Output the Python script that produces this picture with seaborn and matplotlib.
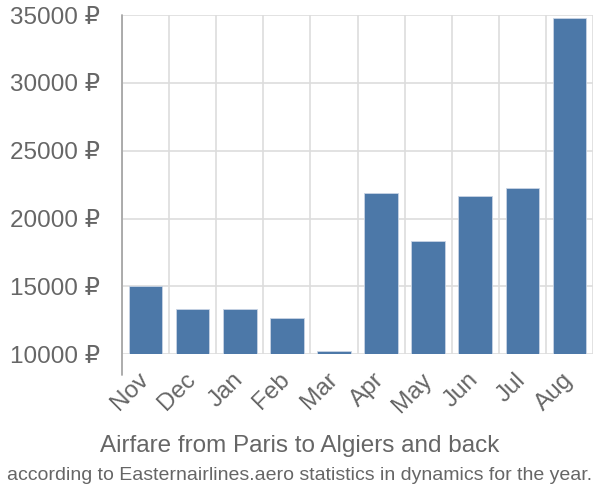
import matplotlib
matplotlib.use("Agg")
import matplotlib.pyplot as plt
import seaborn as sns
import pandas as pd
import numpy as np
from matplotlib.ticker import FixedLocator

months = ["Nov", "Dec", "Jan", "Feb", "Mar", "Apr", "May", "Jun", "Jul", "Aug"]
prices = [15050, 13350, 13370, 12660, 10240, 21890, 18370, 21640, 22260, 34760]
yticks = [10000, 15000, 20000, 25000, 30000, 35000]
ytick_labels = [f"{v} ₽" for v in yticks]
title = "Airfare from Paris to Algiers and back"
subtitle = "according to Easternairlines.aero statistics in dynamics for the year."

sns.set_theme(style="white")
plt.rcParams["font.family"] = ["Liberation Sans", "DejaVu Sans"]

TEXT = "#666666"
GRID = "#dddddd"
BAR = "#4c78a8"

df = pd.DataFrame({"month": months, "price": prices})

fig = plt.figure(figsize=(6, 5), dpi=100)
ax = fig.add_axes([122 / 600, 1 - 354.3 / 500, (593 - 122) / 600, (354.3 - 15) / 500])

sns.barplot(data=df, x="month", y="price", color=BAR, width=0.715,
            saturation=1, edgecolor="#c8d4e4", linewidth=0.6, ax=ax, zorder=3)

ax.set_ylim(10000, 35000)
ax.set_xlim(-0.5, len(months) - 0.5)
ax.set_yticks(yticks)
ax.set_yticklabels(ytick_labels)
ax.set_xlabel("")
ax.set_ylabel("")

# grid
ax.xaxis.set_minor_locator(FixedLocator(np.arange(-0.5, len(months), 1.0)))
ax.grid(False)
ax.grid(axis="y", which="major", color=GRID, linewidth=1.2, zorder=0)
ax.grid(axis="x", which="minor", color=GRID, linewidth=1.2, zorder=0)
for s in ax.spines.values():
    s.set_visible(False)

ax.tick_params(axis="y", which="major", length=16, color=GRID, width=1.2,
               pad=0, labelsize=17.5, labelcolor=TEXT)
ax.tick_params(axis="x", which="major", length=0, pad=16, labelsize=17.5, labelcolor=TEXT)
ax.tick_params(axis="x", which="minor", length=14.5, color=GRID, width=1.2)
for lab in ax.get_xticklabels():
    lab.set_rotation(45)
    lab.set_ha("right")
    lab.set_va("center")
    lab.set_rotation_mode("anchor")

# left axis line (extended below)
ax.plot([0, 0], [-0.06, 1], transform=ax.transAxes, color="#a6a6a6",
        linewidth=1.3, clip_on=False, zorder=4)

fig.text(0.5, 1 - 446 / 500, title, ha="center", va="center", fontsize=17.5, color=TEXT)
fig.text(0.5, 1 - 476 / 500, subtitle, ha="center", va="center", fontsize=14,
         color=TEXT)

fig.savefig("out.png", dpi=100)
